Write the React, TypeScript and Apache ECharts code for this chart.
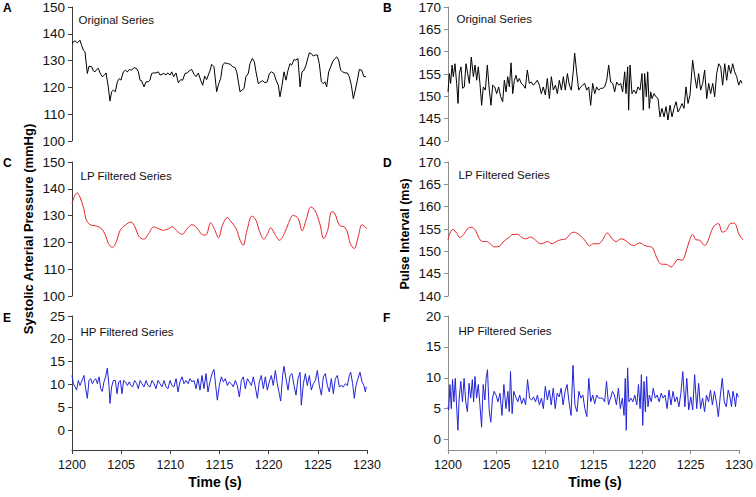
import React, { useEffect, useRef } from "react";
import * as echarts from "echarts";

// Time axis (s)
const timeTicks = [1200, 1205, 1210, 1215, 1220, 1225, 1230];
const tStart = 1200;

// Panel A: original SAP series (seconds after 1200, mmHg)
const aSec = [0.00,0.31,0.54,0.81,0.98,1.15,1.32,1.56,1.73,2.00,2.17,2.34,2.51,2.68,2.85,3.08,3.29,3.46,3.69,3.86,4.03,4.20,4.41,4.61,4.81,4.98,5.22,5.42,5.63,5.83,6.07,6.31,6.58,6.75,6.92,7.08,7.32,7.53,7.76,7.93,8.10,8.27,8.54,8.78,8.95,9.15,9.36,9.56,9.73,9.97,10.14,10.34,10.58,10.81,11.05,11.25,11.49,11.73,11.93,12.17,12.41,12.61,12.85,13.08,13.29,13.49,13.69,13.86,14.03,14.20,14.44,14.71,14.92,15.12,15.32,15.53,15.80,16.07,16.34,16.58,16.75,16.92,17.08,17.29,17.49,17.69,17.93,18.10,18.34,18.54,18.71,18.95,19.19,19.39,19.63,19.86,20.07,20.31,20.54,20.75,20.98,21.15,21.36,21.56,21.76,21.97,22.17,22.34,22.58,22.75,22.98,23.19,23.39,23.59,23.80,23.93,24.14,24.34,24.54,24.75,24.95,25.15,25.36,25.56,25.73,25.90,26.10,26.31,26.51,26.75,26.92,27.12,27.32,27.53,27.76,28.00,28.20,28.41,28.61,28.81,29.02,29.22,29.46,29.69,29.90];
const aSap = [136.6,137.4,136.6,137.6,135.7,133.9,133.3,125.2,127.9,127.7,126.2,125.8,126.7,127.1,125.4,124,124.6,125.4,120.2,114.9,118.4,119,118.4,122.1,123.3,122.7,125.8,126.4,125.8,126.7,126.4,127.4,127,125.8,122.7,122.5,120.2,122.1,122.1,122.7,125.2,125.4,125.4,125.8,124.6,124.9,125.2,124.6,125.4,124.6,125.8,124.0,125.4,121.7,122.9,122.7,125.2,125.4,126.2,126.7,124.9,124,125.4,122.7,120.8,124.2,122.9,124.6,126.2,128.6,127.7,118.4,121.4,123.3,128.3,129.2,128.9,128.7,127.7,127.4,125.8,122.1,118.4,119,119.6,124,125.2,128.9,130.8,129.6,125.8,121.4,122.1,122.5,121.7,122.1,125.2,125.8,125.2,122.7,120.8,116.5,120.8,125.8,122.7,126.4,128.9,128.3,130.4,130.2,130.8,120.2,125.8,126.4,128.3,130.2,132.9,132.6,131.7,132.1,132.1,128.9,122.1,121.4,122.1,120.2,125.8,127.7,129.6,130.8,131.4,130.2,126.4,125.8,125.4,125.4,124,120.8,115.8,119,122.7,126.7,126.4,124,124];

// Panel B: original pulse interval series (ms)
const bSec = [0.00,0.14,0.27,0.41,0.54,0.71,0.88,1.02,1.15,1.32,1.49,1.66,1.83,2.00,2.17,2.37,2.58,2.75,2.92,3.08,3.25,3.42,3.59,3.80,4.00,4.20,4.37,4.54,4.75,4.95,5.15,5.36,5.56,5.73,5.90,6.07,6.24,6.41,6.58,6.75,6.92,7.08,7.25,7.46,7.66,7.86,8.07,8.27,8.47,8.68,8.88,9.08,9.29,9.49,9.69,9.90,10.10,10.31,10.51,10.71,10.92,11.12,11.32,11.53,11.73,11.93,12.14,12.34,12.54,12.75,12.88,13.08,13.29,13.49,13.69,13.90,14.10,14.31,14.51,14.71,14.92,15.12,15.32,15.53,15.73,15.93,16.14,16.34,16.54,16.75,16.95,17.15,17.36,17.56,17.76,17.97,18.10,18.27,18.37,18.51,18.71,18.92,19.12,19.32,19.53,19.73,19.86,20.00,20.17,20.31,20.47,20.61,20.75,20.95,21.15,21.36,21.56,21.76,21.97,22.17,22.37,22.58,22.78,22.98,23.19,23.39,23.59,23.80,24.00,24.20,24.41,24.61,24.88,25.08,25.29,25.49,25.69,25.90,26.10,26.31,26.51,26.71,26.92,27.12,27.32,27.53,27.73,27.93,28.14,28.34,28.54,28.75,28.95,29.15,29.36,29.56,29.76,29.90];
const bPi = [151,155.1,152.9,157,154.4,157.3,152.9,148.4,155.1,156.6,151.8,152.1,157.3,155.1,152.9,158.8,154.4,157,153.6,156.6,152.9,148,152.1,151.4,157,151.4,148,152.5,152.1,150.6,152.1,149.9,148.8,153.6,151,154.4,152.1,157.5,150.6,153.6,154.7,153.2,154,152.9,152.5,151.8,155.9,152.9,153.2,152.5,153,153.6,152.5,150.6,152.1,150.3,154,149.5,154.4,151.4,152.5,150.6,153.6,151.4,154.4,151.4,155.1,152.5,151.4,155.9,159.7,155.5,151.4,152.1,152.5,152.9,151.4,152.1,148,152.9,150.6,152.1,151.4,151.8,151.8,152.1,153.6,157,153.2,152.9,151,153.2,152.5,152.9,151,155.5,150.6,156.6,146.9,157,150.6,151.4,150.6,152.1,151.4,155.1,146.9,155.1,149.9,155.5,147.3,151,149.5,150.6,149.9,149.5,145.4,147.3,145.4,147.7,144.7,148,145.4,147.3,148.8,146.5,147.3,148.4,147.3,152.1,148.4,150.3,158.1,154.7,151.8,155.1,151.4,152.9,155.9,149.5,152.9,150.6,152.9,149.9,155.1,157.3,156.6,152.5,157.3,153.6,157,155.1,157.3,155.5,154.4,152.5,153.6,152.9];

// Panel C: LP filtered SAP
const cSec = [0.0,0.3,0.5,0.8,1.2,1.4,1.7,2.0,2.5,3.0,3.4,3.7,4.1,4.5,4.9,5.4,6.0,6.4,6.8,7.3,7.8,8.3,8.8,9.3,9.8,10.2,10.6,11.2,11.7,12.2,12.7,13.2,13.6,14.1,14.5,14.9,15.3,15.8,16.2,16.7,17.1,17.4,17.8,18.3,18.7,19.1,19.5,19.9,20.2,20.6,21.1,21.6,22.0,22.5,23.0,23.4,23.8,24.3,24.7,25.2,25.6,26.0,26.4,26.7,27.2,27.7,28.0,28.3,28.7,29.1,29.5,30.0];
const cSap = [134.5,137.6,138.5,137,132.6,128.9,127,126.4,126.1,125.1,122.7,119.6,118.1,120.2,124.5,126.4,127.6,125.8,122.3,121.2,123.3,125.8,125.1,124.5,125.1,125.8,124.5,123.0,125.1,126.6,125.4,123.0,122.7,127.3,124.8,121.7,126.4,129.3,127.6,125.1,120.8,118.9,124.5,129.8,128.3,123.9,121.2,123.3,125.5,123.3,120.8,123.3,127,130.1,128.9,124.3,128.3,133.2,132,127,121.4,124.5,131.4,131,126.4,125.8,123.9,119.6,117.7,122,126.6,125.1];

// Panel D: LP filtered pulse interval
const dSec = [0.0,0.2,0.5,0.9,1.2,1.6,2.0,2.4,2.8,3.1,3.5,3.9,4.3,4.7,5.2,5.6,6.2,6.6,7.1,7.5,7.9,8.4,8.9,9.4,9.8,10.1,10.6,11.0,11.5,12.0,12.4,12.8,13.4,13.9,14.4,14.8,15.3,15.7,16.2,16.7,17.1,17.6,18.0,18.5,18.9,19.5,20.0,20.4,20.8,21.2,21.6,21.9,22.2,22.7,23.0,23.4,23.8,24.1,24.5,24.9,25.2,25.6,26.1,26.4,26.7,27.1,27.5,27.9,28.3,28.7,29.1,29.6,30.0];
const dPi = [152.6,154.1,154.9,154.0,153.1,153.8,155.1,155.4,154.7,153.2,152.2,152.2,151.7,151.0,151.1,152.1,153.1,153.8,153.8,153.1,152.8,153.2,152.5,151.7,151.9,152.2,151.7,152.2,152.6,152.8,153.8,154.3,153.6,152.5,151.2,151.7,151.7,152.5,154.1,152.8,152.2,152.8,152.5,151.6,151.3,151.9,151.3,151.1,150.8,148.7,147.2,147.1,147.1,146.5,147.2,148.2,148.0,149.1,152.1,153.8,152.6,152.5,151.3,152.1,154.0,155.8,156.2,154.3,154.7,156.2,156.3,153.8,152.6];

// Panel E: HP filtered SAP
const eSec = [0.00,0.14,0.31,0.47,0.64,0.81,1.02,1.22,1.39,1.56,1.73,1.90,2.07,2.24,2.41,2.58,2.75,2.92,3.08,3.25,3.42,3.59,3.76,3.86,4.03,4.20,4.41,4.58,4.75,4.92,5.08,5.25,5.42,5.63,5.83,6.00,6.17,6.37,6.58,6.75,6.92,7.12,7.32,7.53,7.73,7.93,8.14,8.34,8.54,8.75,8.95,9.15,9.36,9.56,9.76,9.97,10.17,10.37,10.58,10.78,10.98,11.19,11.39,11.59,11.80,12.00,12.20,12.41,12.61,12.81,13.02,13.22,13.42,13.63,13.83,14.03,14.24,14.44,14.61,14.78,14.98,15.19,15.39,15.59,15.80,16.00,16.20,16.41,16.61,16.81,17.02,17.22,17.42,17.63,17.83,18.03,18.24,18.44,18.64,18.85,19.05,19.25,19.46,19.66,19.86,20.07,20.27,20.47,20.68,20.88,21.08,21.22,21.42,21.56,21.76,21.97,22.17,22.37,22.58,22.78,22.98,23.19,23.32,23.53,23.73,23.93,24.14,24.34,24.54,24.75,24.95,25.15,25.36,25.56,25.76,25.97,26.17,26.37,26.58,26.78,26.98,27.19,27.39,27.59,27.80,28.00,28.20,28.34,28.54,28.71,28.88,29.08,29.29,29.49,29.69,29.83,29.93];
const eSap = [12.0,10.2,9.5,8.8,10.9,9.8,10.9,12.0,9.1,7.0,10.9,11.3,10.2,10.9,11.3,10.2,11.7,9.1,8.5,10.6,11.7,13.6,9.8,5.9,9.5,10.9,10.9,8.0,10.6,10.9,8.0,10.9,10.6,9.8,10.6,9.8,9.5,10.9,10.2,9.1,10.9,10.2,9.5,10.9,9.8,9.5,10.9,10.2,9.1,10.9,10.2,9.5,10.9,9.5,9.1,10.9,9.8,9.5,11.3,8.4,10.6,11.7,10.2,10.9,10.2,11.3,10.6,10.9,9.1,11.3,8.8,12.0,9.1,12.4,8.4,10.6,12.4,13.3,9.8,6.6,9.8,11.7,10.6,11.3,9.8,10.6,10.2,9.5,10.9,9.8,7.3,10.9,11.7,9.1,11.3,10.6,9.8,11.7,9.5,7.0,10.6,12.0,9.1,11.7,8.8,10.6,12.0,9.8,13.1,10.2,8.0,6.4,12.0,14.0,11.3,8.8,12.0,12.4,9.8,7.7,11.3,12.7,5.5,10.2,12.4,9.8,12.0,8.8,10.2,10.9,13.1,9.8,7.7,11.7,12.4,9.8,8.4,11.3,8.0,11.3,12.0,9.5,9.8,9.5,10.2,9.8,12.0,12.7,10.2,7.0,9.8,11.3,12.7,10.6,9.8,8.4,9.5];

// Panel F: HP filtered pulse interval
const fSec = [0.00,0.07,0.20,0.34,0.47,0.61,0.75,0.88,1.02,1.15,1.32,1.49,1.66,1.83,2.00,2.17,2.34,2.51,2.64,2.78,2.95,3.12,3.29,3.46,3.63,3.80,3.93,4.07,4.24,4.41,4.58,4.75,4.95,5.15,5.36,5.56,5.76,5.97,6.17,6.31,6.44,6.61,6.78,6.98,7.19,7.39,7.59,7.80,8.00,8.20,8.41,8.61,8.81,9.02,9.22,9.42,9.63,9.83,10.03,10.24,10.44,10.64,10.85,11.05,11.25,11.46,11.66,11.86,12.07,12.27,12.47,12.68,12.88,13.08,13.29,13.49,13.69,13.90,14.10,14.31,14.51,14.71,14.92,15.12,15.32,15.53,15.73,15.93,16.14,16.34,16.54,16.75,16.95,17.15,17.36,17.56,17.76,17.97,18.14,18.27,18.37,18.51,18.64,18.85,19.05,19.25,19.46,19.63,19.80,19.93,20.07,20.20,20.34,20.47,20.61,20.75,20.95,21.15,21.36,21.56,21.76,21.97,22.17,22.37,22.58,22.78,22.98,23.19,23.39,23.59,23.80,24.00,24.20,24.41,24.61,24.81,25.02,25.22,25.42,25.63,25.83,26.03,26.24,26.44,26.64,26.85,27.05,27.25,27.46,27.66,27.86,28.07,28.27,28.47,28.68,28.88,29.02,29.22,29.36,29.49,29.63,29.76,29.93];
const fPi = [5.3,4.8,8.9,5.0,9.7,6.1,9.9,5.6,1.5,6.7,9.4,6.1,9.9,6.1,4.5,9.1,6.7,9.7,6.1,10.2,6.7,8.9,5.6,2.0,8.9,6.4,9.9,11.3,4.8,2.8,6.7,7.8,7.2,6.1,7.5,3.9,8.9,5.0,7.8,4.5,11.0,4.2,7.8,6.9,6.1,7.2,5.8,6.7,5.6,9.7,6.7,6.4,6.9,6.1,7.2,5.6,6.7,5.0,8.6,6.4,8.0,5.6,8.3,5.0,7.5,6.9,8.3,5.6,7.8,8.9,6.1,3.9,12.0,5.6,4.5,7.8,6.7,7.2,5.0,3.7,9.9,6.1,7.2,5.8,7.2,6.7,6.7,6.7,6.1,9.4,5.6,6.7,7.8,7.2,5.6,8.3,5.0,6.7,3.9,9.9,1.5,11.6,6.1,6.7,6.1,7.2,5.6,8.9,5.0,10.5,2.3,9.4,4.5,10.2,5.3,7.2,6.1,8.3,6.7,7.2,6.1,7.5,6.7,7.2,5.0,8.0,5.6,7.8,6.1,6.9,5.3,7.5,11.0,5.3,9.9,4.8,6.9,4.8,10.5,5.0,9.1,5.0,6.7,4.5,7.2,6.1,8.0,5.6,7.8,6.1,3.7,7.2,9.9,6.1,5.3,8.0,7.2,5.3,7.8,6.9,5.3,7.5,6.9];

// Y-axis tick labels
const sapTicks = [100, 110, 120, 130, 140, 150];
const piTicks = [140, 145, 150, 155, 160, 165, 170];
const hpSapTicks = [0, 5, 10, 15, 20, 25];
const hpPiTicks = [0, 5, 10, 15, 20];

const panelLetters = ["A", "C", "E", "B", "D", "F"];
const panelTitles = ["Original Series", "LP Filtered Series", "HP Filtered Series", "Original Series", "LP Filtered Series", "HP Filtered Series"];

const FONT = '"Liberation Sans", Arial, sans-serif';

function toPairs(sec: number[], vals: number[]) {
  const n = Math.min(sec.length, vals.length);
  const out: number[][] = [];
  for (let i = 0; i < n; i++) out.push([tStart + sec[i], vals[i]]);
  return out;
}

export default function App() {
  const ref = useRef<HTMLDivElement>(null);
  useEffect(() => {
    if (!ref.current) return;
    const chart = echarts.init(ref.current, null, { renderer: "svg" });
    const W = 295, H = 134;
    const lefts = [72, 72, 72, 448, 448, 448];
    const tops = [7, 162, 316, 7, 162, 316];
    const axisColors = ["#3c3c3c", "#3c3c3c", "#3c3c3c", "#8e8e8e", "#8e8e8e", "#8e8e8e"];
    const grids = lefts.map((l, i) => ({ left: l, top: tops[i], width: W, height: H, containLabel: false }));

    const xAxes = grids.map((_, i) => {
      const bottom = i === 2 || i === 5;
      return {
        type: "value",
        gridIndex: i,
        min: timeTicks[0],
        max: timeTicks[timeTicks.length - 1],
        interval: 5,
        show: bottom,
        axisLine: { show: bottom, onZero: false, lineStyle: { color: axisColors[i], width: 1 } },
        axisTick: { show: bottom, length: 4, lineStyle: { color: axisColors[i] } },
        axisLabel: {
          show: bottom, fontSize: 12.5, fontFamily: FONT, color: "#111", margin: 8,
          formatter: (v: number) => String(v),
        },
        splitLine: { show: false },
      };
    });

    const yBase = (i: number) => ({
      type: "value",
      gridIndex: i,
      axisLine: { show: true, onZero: false, lineStyle: { color: axisColors[i], width: 1 } },
      axisTick: { show: true, length: 4, lineStyle: { color: axisColors[i] } },
      axisLabel: { fontSize: 13.5, fontFamily: FONT, color: "#111", margin: 7, formatter: (v: number) => String(v) },
      splitLine: { show: false },
    });
    const yAxes: any[] = [];
    // A
    yAxes.push({ ...yBase(0), min: sapTicks[0], max: sapTicks[sapTicks.length - 1], interval: 10 });
    // C
    yAxes.push({ ...yBase(1), min: sapTicks[0], max: sapTicks[sapTicks.length - 1], interval: 10 });
    // E
    {
      const b = yBase(2);
      yAxes.push({
        ...b, min: -4.3, max: 25,
        axisTick: { ...b.axisTick, customValues: hpSapTicks },
        axisLabel: { ...b.axisLabel, customValues: hpSapTicks },
      });
    }
    // B
    yAxes.push({ ...yBase(3), min: piTicks[0], max: piTicks[piTicks.length - 1], interval: 5 });
    // D
    yAxes.push({ ...yBase(4), min: piTicks[0], max: piTicks[piTicks.length - 1], interval: 5 });
    // F
    {
      const b = yBase(5);
      yAxes.push({
        ...b, min: -1.7, max: 20,
        axisTick: { ...b.axisTick, customValues: hpPiTicks },
        axisLabel: { ...b.axisLabel, customValues: hpPiTicks },
      });
    }

    const mk = (i: number, data: number[][], color: string, smooth: number | boolean) => ({
      type: "line",
      xAxisIndex: i,
      yAxisIndex: i,
      data,
      showSymbol: false,
      symbol: "none",
      smooth,
      lineStyle: { color, width: 1 },
      silent: true,
    });

    const series = [
      mk(0, toPairs(aSec, aSap), "#000000", false),
      mk(1, toPairs(cSec, cSap), "#e3242b", 0.35),
      mk(2, toPairs(eSec, eSap), "#2323d8", false),
      mk(3, toPairs(bSec, bPi), "#000000", false),
      mk(4, toPairs(dSec, dPi), "#e3242b", 0.35),
      mk(5, toPairs(fSec, fPi), "#2323d8", false),
    ];

    const letterPos = [[3, 8], [3, 163], [3, 318], [383, 8], [383, 163], [383, 318]];
    const titlePos = [[78.5, 19.5], [80.5, 176], [80.5, 331.5], [456.5, 19], [458.5, 175], [458.5, 331]];

    const graphic: any[] = [];
    panelLetters.forEach((l, i) => {
      graphic.push({
        type: "text", x: letterPos[i][0], y: letterPos[i][1], silent: true,
        style: { text: l, font: `bold 12px ${FONT}`, fill: "#000", textAlign: "left", textVerticalAlign: "middle" },
      });
    });
    panelTitles.forEach((t, i) => {
      graphic.push({
        type: "text", x: titlePos[i][0], y: titlePos[i][1], silent: true,
        style: { text: t, font: `11.5px ${FONT}`, fill: "#111", textAlign: "left", textVerticalAlign: "middle" },
      });
    });
    graphic.push({
      type: "text", x: 28.5, y: 229, rotation: Math.PI / 2, silent: true,
      style: { text: "Systolic Arterial Pressure (mmHg)", font: `bold 13px ${FONT}`, fill: "#000", textAlign: "center", textVerticalAlign: "middle" },
    });
    graphic.push({
      type: "text", x: 405, y: 234, rotation: Math.PI / 2, silent: true,
      style: { text: "Pulse Interval (ms)", font: `bold 12.5px ${FONT}`, fill: "#000", textAlign: "center", textVerticalAlign: "middle" },
    });
    graphic.push({
      type: "text", x: 215, y: 482, silent: true,
      style: { text: "Time (s)", font: `bold 14px ${FONT}`, fill: "#000", textAlign: "center", textVerticalAlign: "middle" },
    });
    graphic.push({
      type: "text", x: 595, y: 482, silent: true,
      style: { text: "Time (s)", font: `bold 14px ${FONT}`, fill: "#000", textAlign: "center", textVerticalAlign: "middle" },
    });

    chart.setOption({
      animation: false,
      backgroundColor: "#ffffff",
      grid: grids,
      xAxis: xAxes,
      yAxis: yAxes,
      series,
      graphic,
    });
    return () => chart.dispose();
  }, []);

  return (
    <div
      ref={ref}
      style={{ position: "absolute", left: 0, top: 0, width: 756, height: 497 }}
    />
  );
}
